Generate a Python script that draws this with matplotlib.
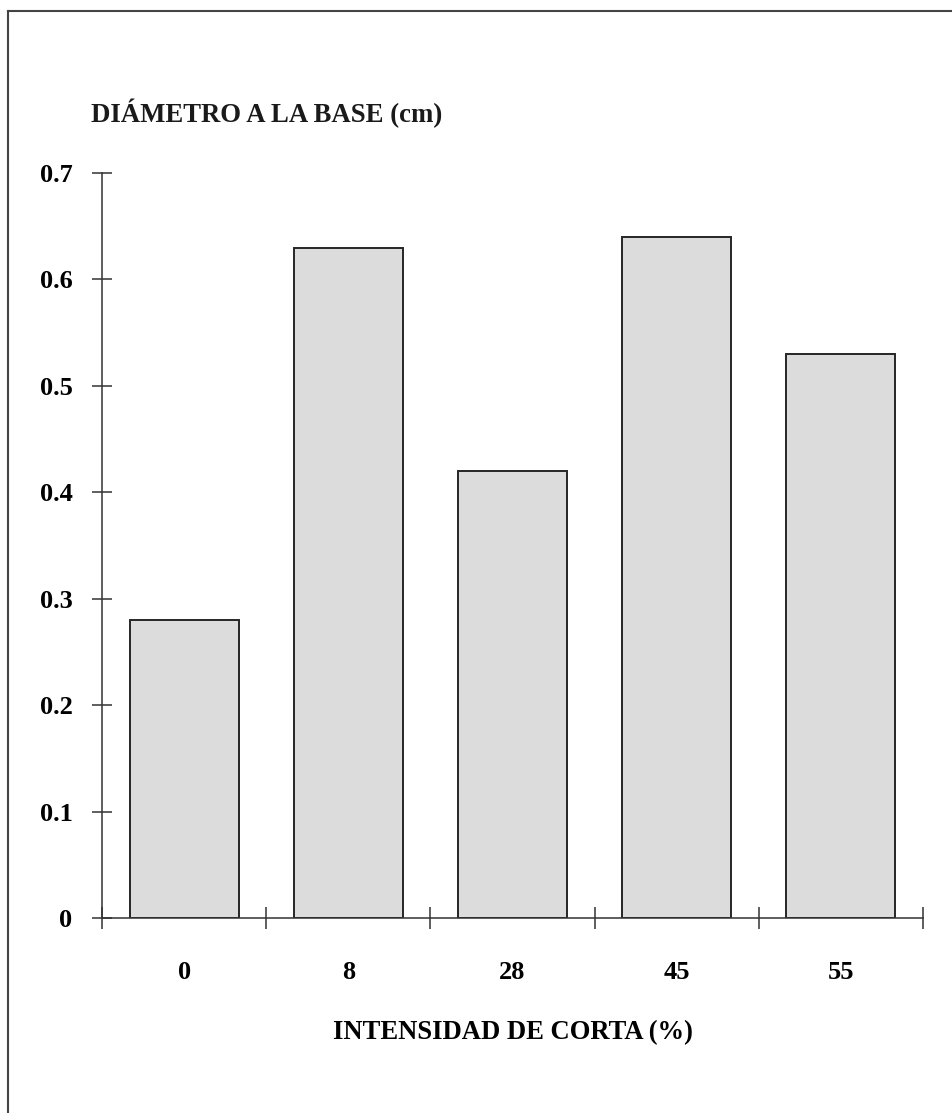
import matplotlib.pyplot as plt
from matplotlib.lines import Line2D

categories = ['0', '8', '28', '45', '55']
values = [0.28, 0.63, 0.42, 0.64, 0.53]
yticks = [0, 0.1, 0.2, 0.3, 0.4, 0.5, 0.6, 0.7]
ylabels = ['0', '0.1', '0.2', '0.3', '0.4', '0.5', '0.6', '0.7']

plt.rcParams['font.family'] = ['Liberation Serif', 'DejaVu Serif']
plt.rcParams['font.weight'] = 'bold'

W, H = 953, 1113
fig = plt.figure(figsize=(W / 100, H / 100), dpi=100)
ax = fig.add_axes([102 / W, 1 - 918 / H, (923 - 102) / W, (918 - 173) / H])

x = list(range(len(categories)))
ax.bar(x, values, width=0.665, color='#dcdcdc', edgecolor='#262626', linewidth=1.4)

ax.set_xlim(-0.5, len(categories) - 0.5)
ax.set_ylim(0, 0.7)
ax.spines['top'].set_visible(False)
ax.spines['right'].set_visible(False)
for s in ['left', 'bottom']:
    ax.spines[s].set_color('#333333')
    ax.spines[s].set_linewidth(1.1)

# boundary ticks on x axis, labels at category centres
ax.set_xticks([i - 0.5 for i in range(len(categories) + 1)])
ax.set_xticklabels([])
ax.set_xticks(x, minor=True)
ax.set_xticklabels(categories, minor=True, fontsize=19, fontweight='bold')
ax.tick_params(axis='x', which='major', direction='inout', length=16, width=1.1, color='#333333')
ax.tick_params(axis='x', which='minor', length=0, pad=31)

ax.set_yticks(yticks)
ax.set_yticklabels(ylabels, fontsize=19, fontweight='bold')
ax.tick_params(axis='y', direction='inout', length=14.5, width=1.1, color='#333333', pad=14)

ax.set_xlabel('INTENSIDAD DE CORTA (%)', fontsize=19.2, fontweight='bold', labelpad=26)
fig.text(91 / W, 1 - 113 / H, 'DIÁMETRO A LA BASE (cm)', fontsize=19.3, fontweight='bold',
         va='center', ha='left', color='#1a1a1a')

# frame around the page (left and top edges visible)
fig.add_artist(Line2D([8 / W, 8 / W], [0, 1 - 11 / H], color='#444444', lw=1.5))
fig.add_artist(Line2D([8 / W, 1], [1 - 11 / H, 1 - 11 / H], color='#444444', lw=1.5))

fig.savefig('out.png', dpi=100)
